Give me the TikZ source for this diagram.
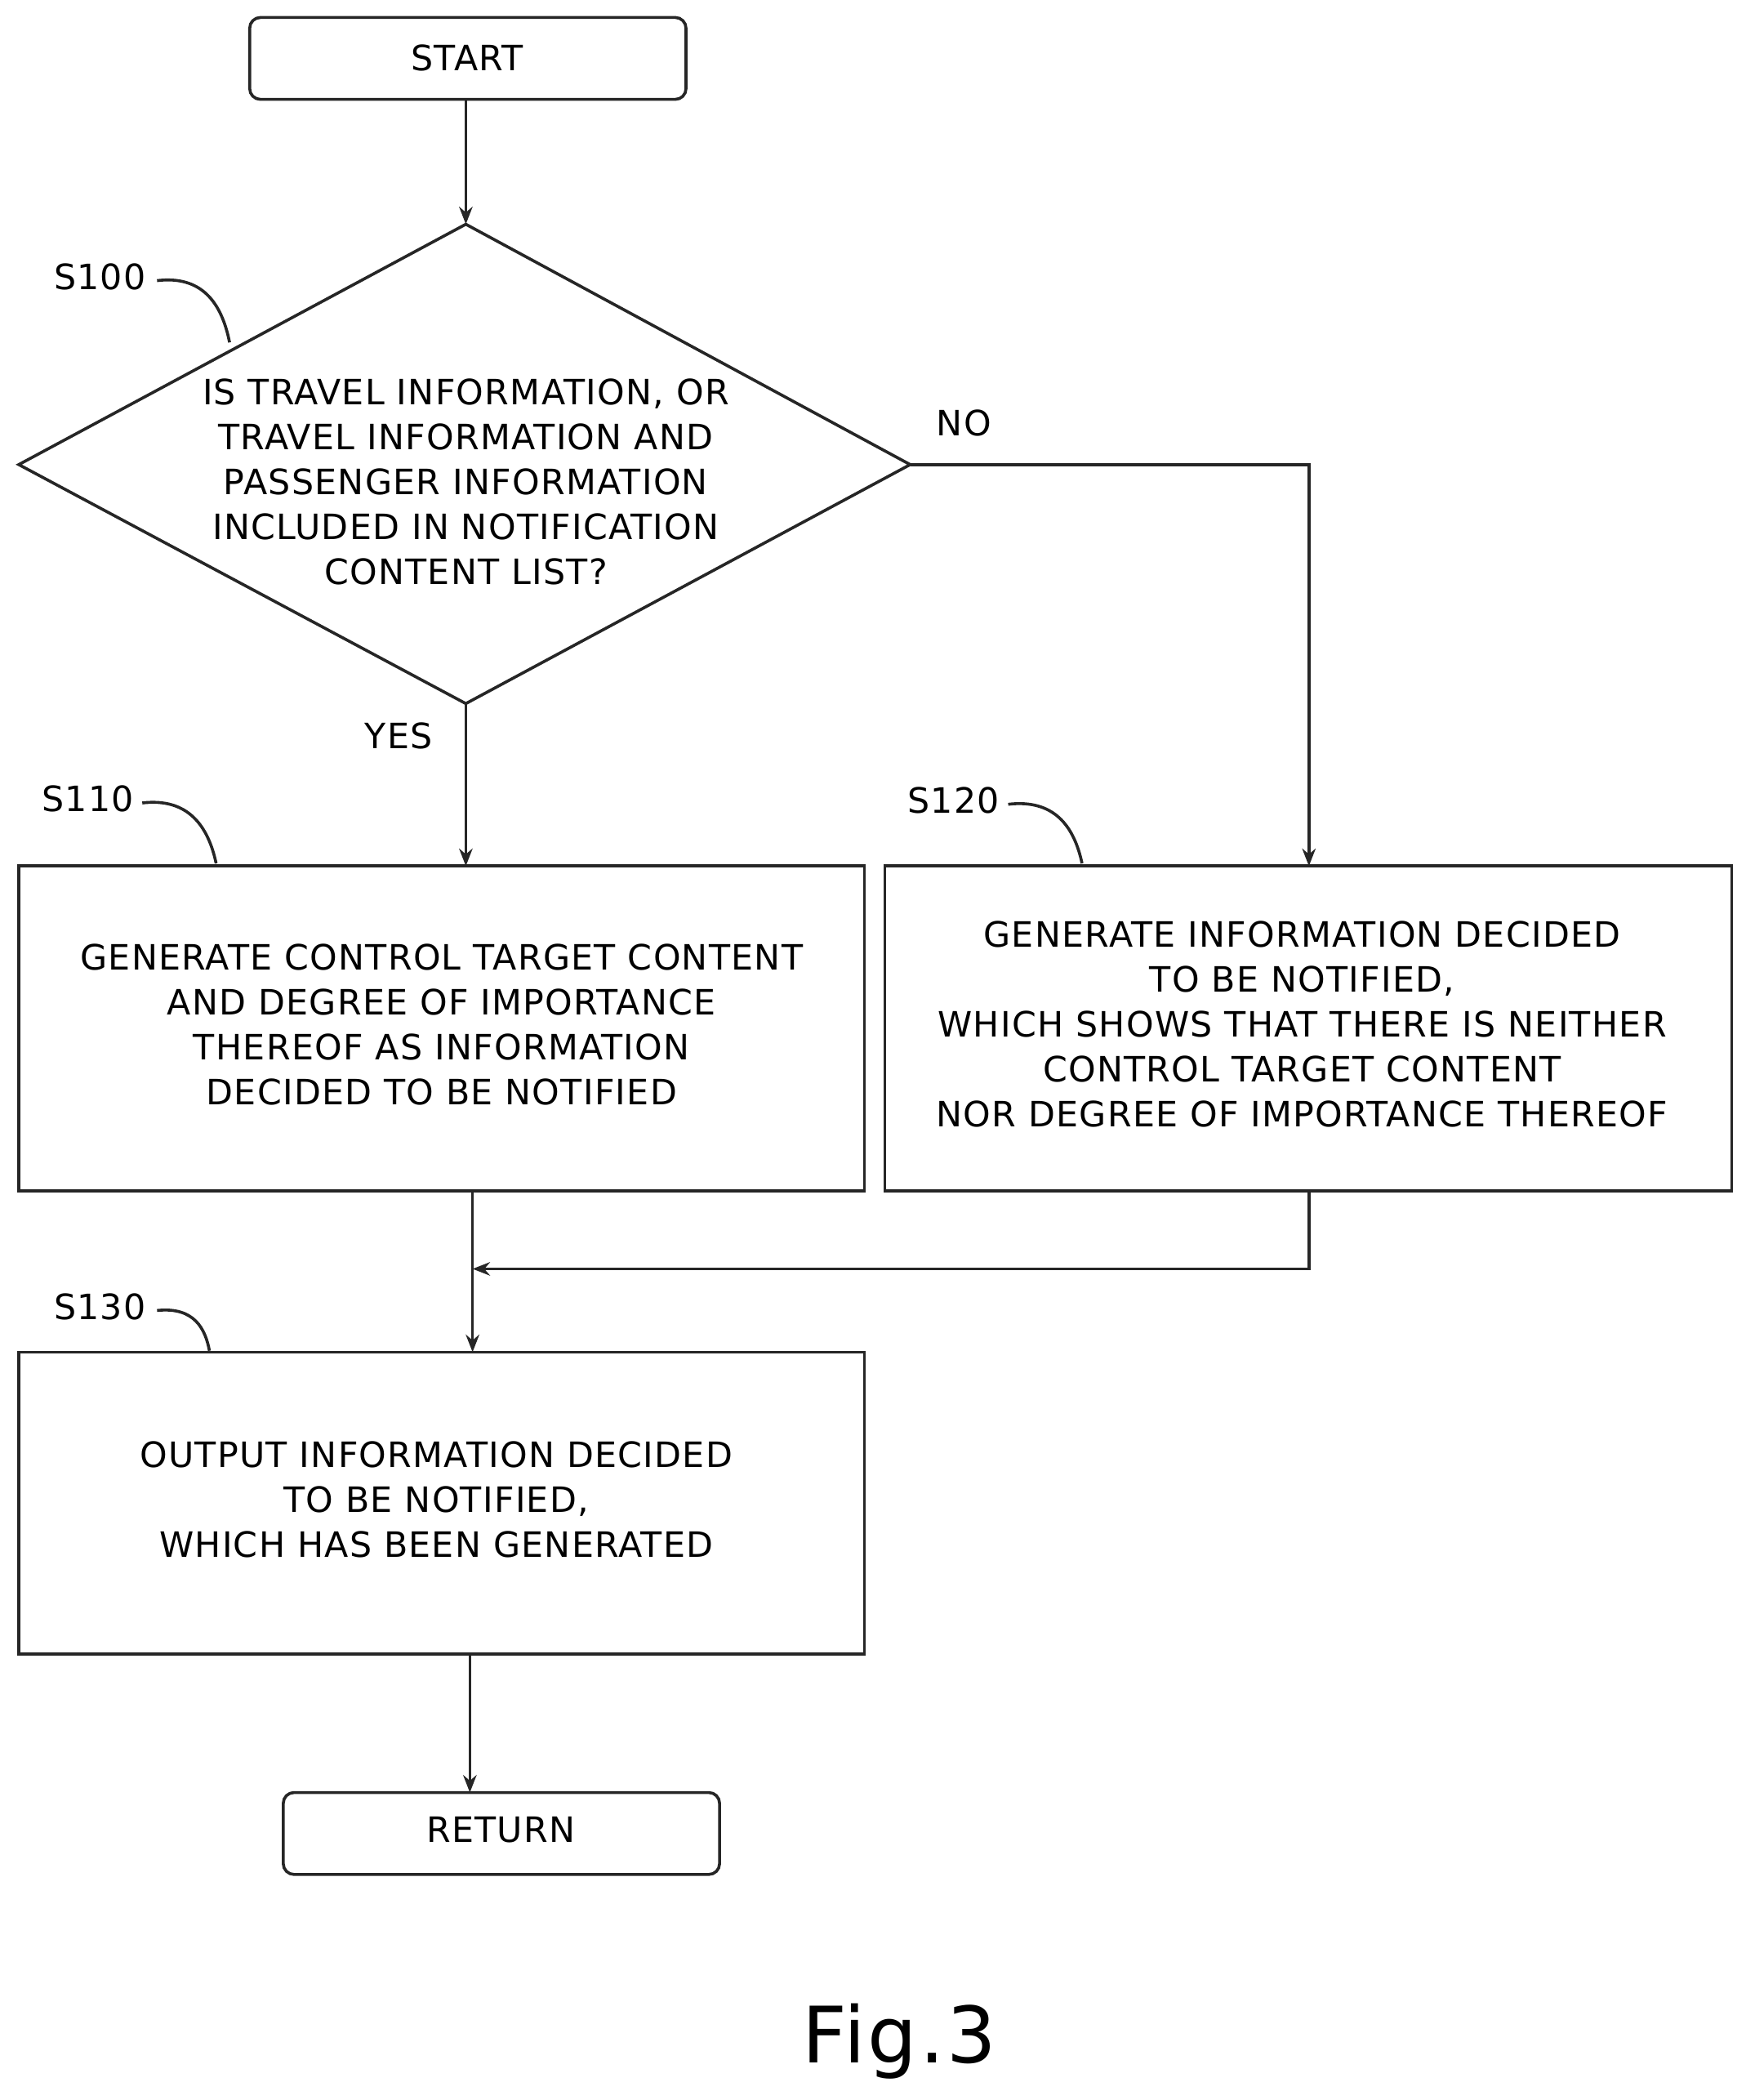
\documentclass[tikz,border=0pt]{standalone}
\usepackage{fontspec}
\setmainfont{DejaVu Sans}[LetterSpace=3]
\usetikzlibrary{arrows.meta}
\begin{document}
\begin{tikzpicture}[x=1pt,y=-1pt,
  every node/.style={font=\fontsize{26}{33.5}\selectfont, align=center, inner sep=0},
  ln/.style={line width=2.2pt, draw=black!85},
  arr/.style={ln,-{Stealth[length=13pt,width=10pt]}},
  box/.style={ln},
  lbl/.style={anchor=west}]
\useasboundingbox (0,0) rectangle (1300,1564);
% shapes
\draw[box, rounded corners=8pt] (186,13) rectangle (511,74);
\node (start) at (348,43) {START};
\coordinate (st) at (347,74);
\coordinate (dt) at (347,167);
\coordinate (db) at (347,524);
\coordinate (dr) at (678,346);
\draw[box] (dt) -- (dr) -- (db) -- (14,346) -- cycle;
\node (q) at (347,359) {IS TRAVEL INFORMATION, OR\\TRAVEL INFORMATION AND\\PASSENGER INFORMATION\\INCLUDED IN NOTIFICATION\\CONTENT LIST?};
\draw[box] (14,645) rectangle (644,887);
\node (a) at (329,763) {GENERATE CONTROL TARGET CONTENT\\AND DEGREE OF IMPORTANCE\\THEREOF AS INFORMATION\\DECIDED TO BE NOTIFIED};
\draw[box] (659,645) rectangle (1290,887);
\node (b) at (970,763) {GENERATE INFORMATION DECIDED\\TO BE NOTIFIED,\\WHICH SHOWS THAT THERE IS NEITHER\\CONTROL TARGET CONTENT\\NOR DEGREE OF IMPORTANCE THEREOF};
\draw[box] (14,1007) rectangle (644,1232);
\node (c) at (325,1117) {OUTPUT INFORMATION DECIDED\\TO BE NOTIFIED,\\WHICH HAS BEEN GENERATED};
\draw[box, rounded corners=8pt] (211,1335) rectangle (536,1396);
\node (ret) at (373,1363) {RETURN};
% connectors
\draw[arr] (st) -- (dt);
\draw[arr] (db) -- (347,645);
\draw[arr] (dr) -- (975,346) -- (975,645);
\draw[arr] (352,887) -- (352,1007);
\draw[arr] (975,887) -- (975,945) -- (352,945);
\draw[arr] (350,1232) -- (350,1335);
% labels
\node (no) at (718,315) {NO};
\node (yes) at (297,548) {YES};
\node[lbl] (l100) at (40,206) {S100};
\draw[ln] (117,209) .. controls (150,205) and (165,225) .. (171,255);
\node[lbl] (l110) at (31,595) {S110};
\draw[ln] (106,598) .. controls (140,594) and (155,615) .. (161,643);
\node[lbl] (l120) at (676,596) {S120};
\draw[ln] (751,599) .. controls (785,595) and (800,615) .. (806,643);
\node[lbl] (l130) at (40,973) {S130};
\draw[ln] (117,976) .. controls (145,973) and (153,990) .. (156,1006);
\node[font=\fontsize{58}{60}\selectfont] (fig) at (670,1520) {Fig.3};
\end{tikzpicture}
\end{document}
